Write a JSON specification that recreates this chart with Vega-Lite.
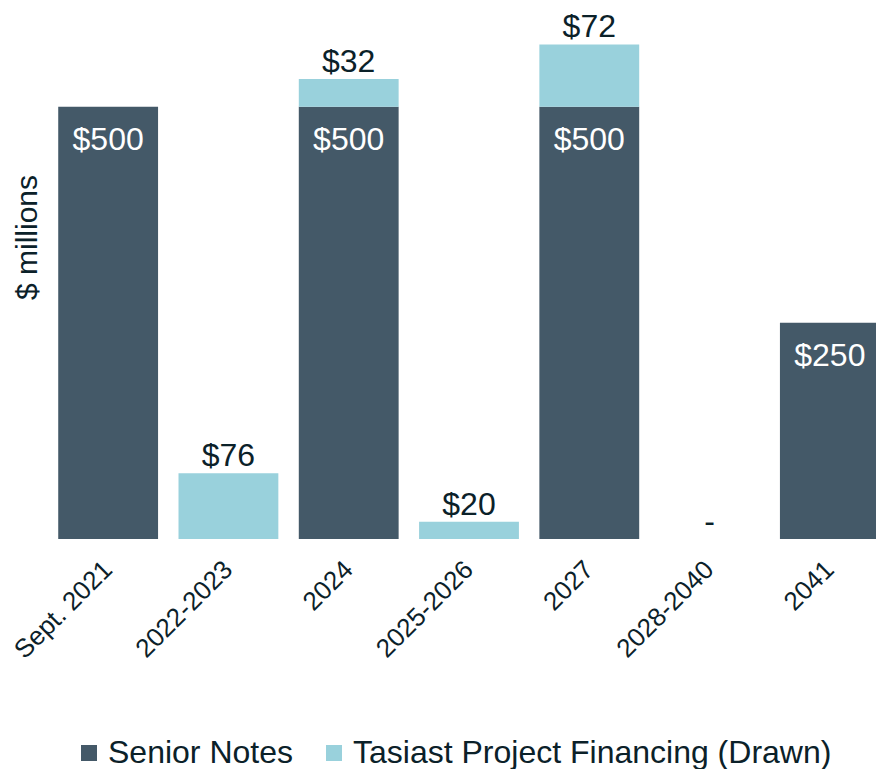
{
  "$schema": "https://vega.github.io/schema/vega-lite/v6.json",
  "width": 842,
  "height": 536,
  "padding": {"left": 9, "top": 3, "right": 0, "bottom": 0},
  "background": "white",
  "config": {
    "view": {"stroke": null},
    "font": "Liberation Sans",
    "axis": {"grid": false}
  },
  "data": {
    "values": [
      {"category": "Sept. 2021", "series": "Senior Notes", "value": 500, "label": "$500"},
      {"category": "2022-2023", "series": "Tasiast Project Financing (Drawn)", "value": 76, "label": "$76"},
      {"category": "2024", "series": "Senior Notes", "value": 500, "label": "$500"},
      {"category": "2024", "series": "Tasiast Project Financing (Drawn)", "value": 32, "label": "$32"},
      {"category": "2025-2026", "series": "Tasiast Project Financing (Drawn)", "value": 20, "label": "$20"},
      {"category": "2027", "series": "Senior Notes", "value": 500, "label": "$500"},
      {"category": "2027", "series": "Tasiast Project Financing (Drawn)", "value": 72, "label": "$72"},
      {"category": "2028-2040", "series": "Tasiast Project Financing (Drawn)", "value": 0, "label": "-"},
      {"category": "2041", "series": "Senior Notes", "value": 250, "label": "$250"}
    ]
  },
  "transform": [
    {"stack": "value", "groupby": ["category"], "sort": [{"field": "series", "order": "ascending"}], "as": ["v0", "v1"]}
  ],
  "encoding": {
    "x": {
      "field": "category",
      "type": "nominal",
      "sort": ["Sept. 2021", "2022-2023", "2024", "2025-2026", "2027", "2028-2040", "2041"],
      "scale": {"paddingInner": 0.17, "paddingOuter": 0.085},
      "axis": {
        "title": null,
        "labelAngle": -45,
        "labelAlign": "right",
        "labelBaseline": "middle",
        "labelFontSize": 26,
        "labelColor": "#0b2129",
        "ticks": false,
        "domain": false,
        "labelPadding": 26
      }
    },
    "y": {
      "field": "v1",
      "type": "quantitative",
      "scale": {"domain": [0, 620], "nice": false},
      "axis": {
        "title": "$ millions",
        "titleFontSize": 30,
        "titleFontWeight": "normal",
        "titleColor": "#0b2129",
        "titlePadding": 6,
        "titleY": 234,
        "titleAlign": "center",
        "labels": false,
        "ticks": false,
        "domain": false,
        "grid": false
      }
    },
    "color": {
      "field": "series",
      "type": "nominal",
      "scale": {
        "domain": ["Senior Notes", "Tasiast Project Financing (Drawn)"],
        "range": ["#445968", "#99d1dc"]
      },
      "legend": {
        "title": null,
        "orient": "none",
        "legendX": 25,
        "legendY": 734,
        "padding": 0,
        "direction": "horizontal",
        "symbolType": "square",
        "symbolSize": 256,
        "symbolStrokeWidth": 0,
        "labelFontSize": 32,
        "labelColor": "#0b2129",
        "labelOffset": 3,
        "columnPadding": 25,
        "labelLimit": 600
      }
    }
  },
  "layer": [
    {
      "transform": [{"filter": "datum.value > 0"}],
      "mark": {"type": "bar", "orient": "vertical"},
      "encoding": {"y2": {"field": "v0"}}
    },
    {
      "transform": [{"filter": "datum.series === 'Senior Notes'"}],
      "mark": {"type": "text", "baseline": "alphabetic", "dy": 43, "fontSize": 32},
      "encoding": {"text": {"field": "label"}, "color": {"value": "white"}}
    },
    {
      "transform": [{"filter": "datum.series !== 'Senior Notes'"}],
      "mark": {"type": "text", "baseline": "alphabetic", "dy": -7, "fontSize": 32},
      "encoding": {"text": {"field": "label"}, "color": {"value": "#0b2129"}}
    }
  ]
}
